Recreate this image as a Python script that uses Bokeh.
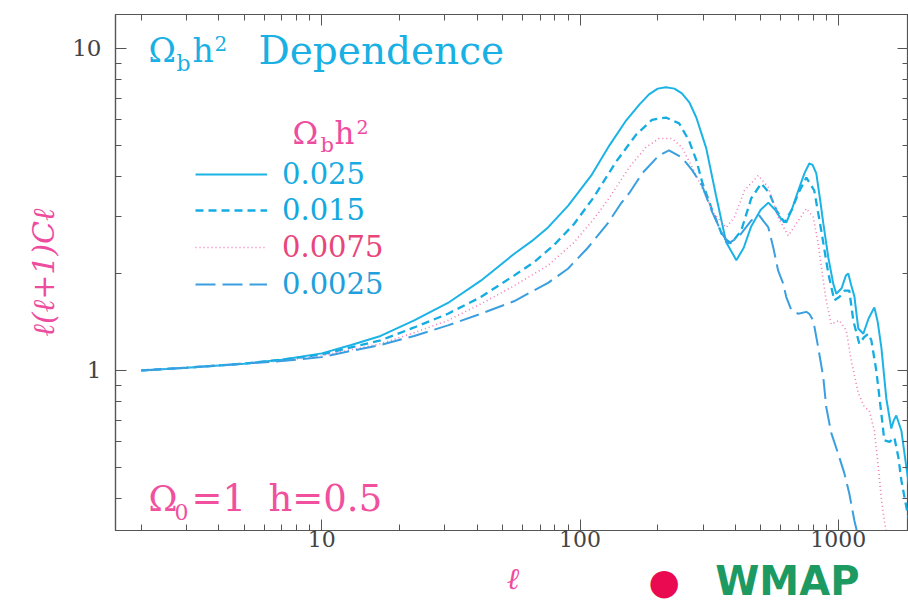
from bokeh.plotting import figure
from bokeh.layouts import column
from bokeh.models import (Label, Legend, LegendItem, LogAxis, Range1d, FixedTicker,
                          BasicTickFormatter)
from bokeh.embed import file_html
from bokeh.resources import INLINE

# ---------------- data ----------------
x_major = [10, 100, 1000]
x_tick_labels = ["10", "100", "1000"]
y_major = [1, 10]
y_tick_labels = ["1", "10"]
minor_mult = [2, 3, 4, 5, 6, 7, 8, 9]

# Omega_b h^2 = 0.025 (solid)
l_025 = [2, 3, 5, 7, 10, 13, 16.9, 22.8, 30.8, 41.3, 55.5, 65, 75.2, 90, 111, 130, 151,
         170, 185, 200, 215, 232, 248, 265, 282, 308, 336, 368, 403, 430, 460, 500,
         536, 570, 601, 629, 660, 700, 740, 772, 795, 822, 850, 875, 915, 956, 982,
         1030, 1070, 1093, 1120, 1154, 1195, 1250, 1310, 1379, 1420, 1468, 1534,
         1604, 1640, 1677, 1755, 1835, 1885]
cl_025 = [1.0, 1.02, 1.05, 1.08, 1.13, 1.2, 1.28, 1.43, 1.62, 1.9, 2.3, 2.52, 2.78, 3.25,
          4.05, 5.0, 5.98, 6.7, 7.2, 7.5, 7.57, 7.5, 7.25, 6.8, 6.1, 4.9, 3.5, 2.5,
          2.2, 2.4, 2.8, 3.15, 3.32, 3.15, 2.95, 2.88, 3.15, 3.62, 4.1, 4.39, 4.35,
          4.09, 3.4, 2.86, 2.24, 1.86, 1.73, 1.8, 1.97, 2.0, 1.85, 1.7, 1.35, 1.3,
          1.45, 1.57, 1.42, 1.18, 0.82, 0.66, 0.7, 0.725, 0.65, 0.5, 0.43]

# Omega_b h^2 = 0.015 (dashed)
l_015 = [2, 3, 5, 7, 10, 13, 16.9, 22.8, 30.8, 41.3, 55.5, 66.4, 79.3, 94.8, 113,
         138, 165, 190, 215, 242, 264, 282, 297, 322, 358, 385, 421, 460, 503, 541,
         576, 618, 660, 700, 752, 807, 859, 915, 965, 1009, 1060, 1103, 1143, 1206,
         1260, 1307, 1343, 1403, 1468, 1507, 1580, 1648, 1709, 1755, 1835, 1885]
cl_015 = [1.0, 1.02, 1.05, 1.08, 1.12, 1.18, 1.24, 1.36, 1.5, 1.69, 1.97, 2.17, 2.45,
          2.85, 3.45, 4.45, 5.4, 6.0, 6.1, 5.85, 5.18, 4.5, 3.85, 3.21, 2.59, 2.48,
          2.72, 3.42, 3.81, 3.55, 3.14, 2.88, 3.15, 3.55, 3.97, 3.62, 2.72, 2.0,
          1.65, 1.69, 1.77, 1.77, 1.43, 1.21, 1.27, 1.3, 1.24, 1.0, 0.735, 0.607,
          0.6, 0.62, 0.537, 0.455, 0.376, 0.342]

# Omega_b h^2 = 0.0075 (dotted)
l_0075 = [2, 3, 5, 7, 10, 13, 16.9, 22.8, 30.8, 41.3, 55.5, 75.2, 94.8, 113, 130,
          155, 180, 202, 227, 248, 272, 294, 330, 368, 396, 433, 490, 536, 585, 640,
          700, 752, 800, 836, 875, 898, 939, 1009, 1074, 1123, 1195, 1262, 1319,
          1379, 1429, 1468, 1507, 1550]
cl_0075 = [1.0, 1.02, 1.05, 1.07, 1.11, 1.16, 1.21, 1.31, 1.43, 1.61, 1.83, 2.12,
           2.5, 2.95, 3.44, 4.27, 4.93, 5.25, 5.25, 4.93, 4.27, 3.75, 3.07, 2.78,
           2.99, 3.62, 4.03, 3.7, 2.99, 2.62, 2.92, 3.18, 2.99, 2.48, 1.9, 1.65,
           1.39, 1.43, 1.33, 1.07, 0.85, 0.77, 0.75, 0.65, 0.5, 0.4, 0.342, 0.3]

# Omega_b h^2 = 0.0025 (long dashed)
l_0025 = [2, 3, 5, 7, 10, 13, 16.9, 22.8, 30.8, 41.3, 55.5, 75.2, 89.8, 107, 128,
          144, 155, 174, 202, 221, 248, 272, 297, 325, 355, 375, 410, 460, 494, 536,
          560, 585, 612, 629, 658, 700, 752, 772, 800, 836, 875, 898, 939, 1000,
          1055, 1103, 1154, 1200]
cl_0025 = [1.0, 1.02, 1.05, 1.07, 1.1, 1.15, 1.2, 1.28, 1.38, 1.5, 1.64, 1.87, 2.07,
           2.4, 2.86, 3.3, 3.55, 4.09, 4.65, 4.82, 4.58, 4.18, 3.75, 3.1, 2.66,
           2.48, 2.59, 2.92, 3.03, 2.78, 2.41, 2.04, 1.86, 1.69, 1.54, 1.5, 1.52,
           1.5, 1.43, 1.18, 0.95, 0.77, 0.64, 0.55, 0.48, 0.415, 0.342, 0.3]

series_labels = ["0.025", "0.015", "0.0075", "0.0025"]

# ---------------- styling ----------------
SERIF = "DejaVu Serif"
CYAN = "#1bb3e6"
PINK = "#ee4c9f"
AX = "#555555"

W, H_MAIN, H_FOOT = 908, 556, 47
FL, FB, FR = 115, 530, 907  # frame left / bottom / right in canvas pixels


def lab(text, cx, cy, size, color, font=SERIF, style="normal", align="left"):
    return Label(x=cx - FL, y=FB - cy, x_units="screen", y_units="screen", text=text,
                 text_font=font, text_font_size=f"{size}px", text_color=color,
                 text_font_style=style, text_align=align, text_baseline="middle")


p = figure(width=W, height=H_MAIN, x_axis_type="log", y_axis_type="log",
           x_range=Range1d(1.59, 1870), y_range=Range1d(0.3185, 12.74),
           output_backend="svg", toolbar_location=None,
           min_border_left=115, min_border_right=0, min_border_top=14,
           min_border_bottom=H_MAIN - FB)
p.grid.visible = False
p.outline_line_color = AX
p.outline_line_width = 1.2
p.background_fill_color = "white"
p.border_fill_color = "white"

x_minor = [m * d for d in [1, 10, 100, 1000] for m in minor_mult]
y_minor = [m * d for d in [0.1, 1, 10] for m in minor_mult]


def style_axis(ax, ticks, minor, labels, show_labels):
    ax.ticker = FixedTicker(ticks=ticks, minor_ticks=minor)
    ax.formatter = BasicTickFormatter(use_scientific=False)
    ax.axis_line_color = AX
    ax.axis_line_width = 1.2
    ax.major_tick_line_color = AX
    ax.minor_tick_line_color = AX
    ax.major_tick_in = 11
    ax.major_tick_out = 0
    ax.minor_tick_in = 6
    ax.minor_tick_out = 0
    ax.major_label_text_font = SERIF
    ax.major_label_text_color = "#444444"
    ax.major_label_text_font_size = "22px"
    if show_labels:
        ax.major_label_overrides = dict(zip(ticks, labels))
    else:
        ax.major_label_overrides = {t: "" for t in ticks}
        ax.major_label_standoff = 0


xb = p.xaxis[0]
style_axis(xb, x_major, x_minor, x_tick_labels, True)
xb.major_label_standoff = 0

yl = p.yaxis[0]
style_axis(yl, y_major, y_minor, y_tick_labels, True)
yl.major_label_text_font_size = "23px"
yl.major_label_standoff = 14
yl.axis_label = "ℓ(ℓ+1)Cℓ"
yl.axis_label_text_font = SERIF
yl.axis_label_text_font_style = "italic"
yl.axis_label_text_font_size = "30px"
yl.axis_label_text_color = PINK
yl.axis_label_standoff = 8

xt = LogAxis()
style_axis(xt, x_major, x_minor, x_tick_labels, False)
p.add_layout(xt, "above")
yr = LogAxis()
style_axis(yr, y_major, y_minor, y_tick_labels, False)
p.add_layout(yr, "right")

# ---------------- curves ----------------
r1 = p.line(l_025, cl_025, line_color=CYAN, line_width=2)
r2 = p.line(l_015, cl_015, line_color="#15ace2", line_width=2.3, line_dash="8 5")
r3 = p.line(l_0075, cl_0075, line_color="#f27ab6", line_width=1.6, line_dash="1 3")
r4 = p.line(l_0025, cl_0025, line_color="#3a9fe0", line_width=2, line_dash="20 7")

# ---------------- legend (one per entry, for per-entry label colours) ----------------
leg_colors = ["#16ace2", "#12a8e0", "#e8457a", "#1fa0dc"]
leg_y = [177, 213, 250, 287]
for r, t, c, yc in zip([r1, r2, r3, r4], series_labels, leg_colors, leg_y):
    lg = Legend(items=[LegendItem(label=t, renderers=[r])],
                location=(195 - FL, FB - yc - 14), glyph_width=72, glyph_height=28,
                label_height=28, label_standoff=15, padding=0, margin=0, spacing=0,
                border_line_alpha=0, background_fill_alpha=0,
                label_text_font=SERIF, label_text_font_size="29px",
                label_text_color=c, label_text_baseline="middle")
    p.add_layout(lg)

# ---------------- texts in the frame ----------------
TC = "#19b0e4"
BC = "#f0509e"
for a in [lab("Ω", 148, 50, 33, TC), lab("b", 176, 63, 22, TC), lab("h", 192, 50, 33, TC),
          lab("2", 214, 43, 20, TC), lab("Dependence", 258, 50, 39, TC),
          lab("Ω", 292, 132, 31, PINK), lab("b", 320, 144, 21, PINK),
          lab("h", 334, 132, 31, PINK), lab("2", 356, 126, 19, PINK),
          lab("Ω", 148, 498, 35, BC), lab("0", 174, 511, 22, BC),
          lab("=1", 191, 498, 37, BC), lab("h=0.5", 268, 498, 37, BC)]:
    p.add_layout(a)

# ---------------- strip below the chart: axis title and hand notes ----------------
# (its frame is aligned with the chart frame by the column layout)
foot = figure(width=W, height=H_FOOT, x_range=Range1d(FL, FR), y_range=Range1d(0, H_FOOT),
              output_backend="svg", toolbar_location=None,
              min_border_left=0, min_border_right=0, min_border_top=0, min_border_bottom=0)
foot.axis.visible = False
foot.grid.visible = False
foot.outline_line_color = None
foot.border_fill_color = "white"


def flab(text, cx, cy, size, color, font=SERIF, style="normal"):
    return Label(x=cx, y=H_MAIN + H_FOOT - cy, text=text, text_font=font,
                 text_font_size=f"{size}px", text_color=color, text_font_style=style,
                 text_align="center", text_baseline="middle")


for a in [flab("ℓ", 512, 578, 30, PINK, style="italic"),
          flab("●", 663, 581, 36, "#ea0a52", font="DejaVu Sans"),
          flab("WMAP", 786, 580, 40, "#1c9a62", font="DejaVu Sans", style="bold")]:
    foot.add_layout(a)

layout = column(p, foot, spacing=0)
open("out.html", "w").write(file_html(layout, INLINE))
